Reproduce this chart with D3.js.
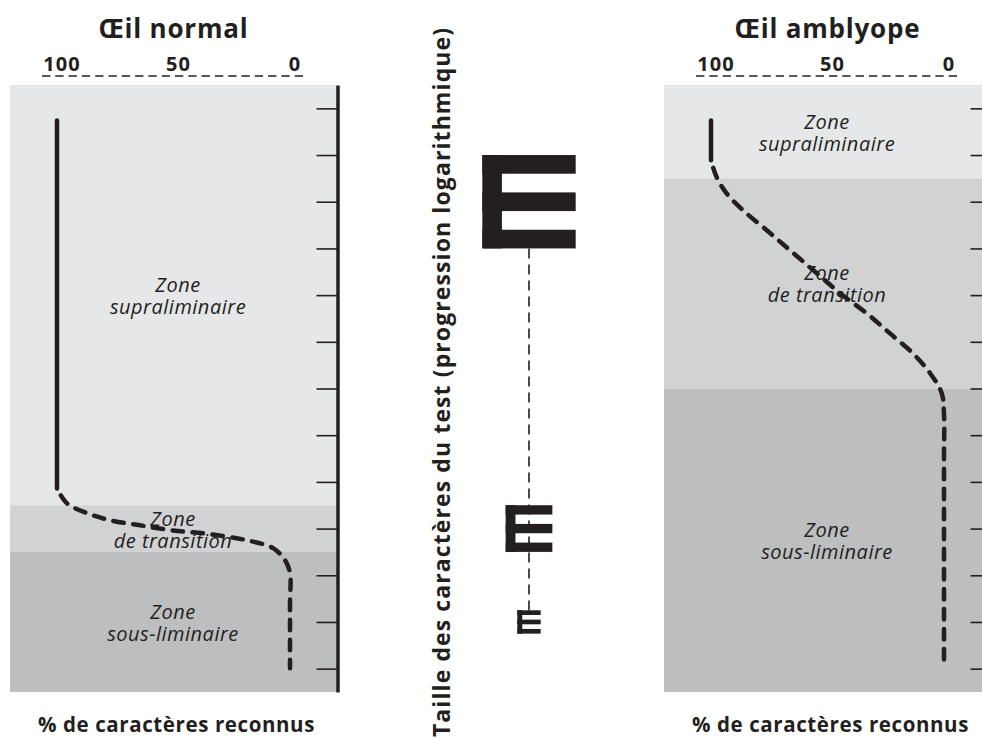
<!DOCTYPE html>
<html>
<head>
<meta charset="utf-8">
<script src="https://cdn.jsdelivr.net/npm/d3@7"></script>
<style>
  body { margin: 0; background: #fff; }
  svg { display: block; }
  text { font-family: "Open Sans", "Noto Sans", sans-serif; fill: #231f20; }
</style>
</head>
<body>
<svg id="chart" width="982" height="738"></svg>
<script>
// Character-size levels of the test (logarithmic progression), one tick per level
const sizeLevels = d3.range(0, 13);
// Top axis: % of characters recognised
const percentTicks = [100, 50, 0];

const panelTitles = ["Œil normal", "Œil amblyope"];
const zoneNames = [
  ["Zone", "supraliminaire"],
  ["Zone", "de transition"],
  ["Zone", "sous-liminaire"]
];
// Zone limits on the size axis (level units)
const normalZoneBounds = [-0.5, 8.5, 9.5, 12.5];
const amblyopeZoneBounds = [-0.5, 1.5, 6, 12.5];

// Recognition curves: [percent recognised, size level]
const normalSolid = [[100, 0.26], [100, 8.14]];
const normalDashed = [
  [100, 8.14], [95.7, 8.46], [87.1, 8.67], [77.3, 8.82], [64.4, 8.93],
  [50.2, 9.04], [34.3, 9.12], [18.5, 9.25], [7.3, 9.42], [2.1, 9.68],
  [0, 9.95], [0, 10.6], [0, 11.99]
];
const amblyopeSolid = [[100, 0.26], [100, 1.11]];
const amblyopeDashed = [
  [100, 1.11], [97.6, 1.47], [93.3, 1.82], [86.3, 2.18], [76.1, 2.61],
  [66.1, 3.04], [54.6, 3.53], [44.6, 3.96], [33.2, 4.39], [23.2, 4.82],
  [13.3, 5.25], [6.0, 5.67], [1.0, 6.10], [0, 6.55], [0, 7.5], [0, 11.88]
];

// Optotypes drawn along the size axis: centre level and size (in levels)
const optoLevels = [2, 9, 11];
const optoSizes = [2, 1, 0.5];

const axisTitle = "Taille des caractères du test (progression logarithmique)";
const xLabel = "% de caractères reconnus";

const ink = "#231f20";
const zoneColors = ["#e6e7e8", "#d1d2d4", "#bcbec0"];

const svg = d3.select("#chart");

const y = d3.scaleLinear().domain([-0.5, 12.5]).range([85, 692]);
const x = d3.scaleLinear().domain([100, 0]).range([57, 290]);

const line = d3.line()
  .x(d => x(d[0]))
  .y(d => y(d[1]))
  .curve(d3.curveCatmullRom.alpha(0.5));

function drawPanel(offsetX, title, bounds, solid, dashed, labelX) {
  const g = svg.append("g").attr("transform", `translate(${offsetX},0)`);

  // zone bands
  const bands = d3.range(3).map(i => ({ from: bounds[i], to: bounds[i + 1], i }));
  g.selectAll("rect.zone").data(bands).join("rect")
    .attr("class", "zone")
    .attr("x", 10).attr("width", 327)
    .attr("y", d => y(d.from))
    .attr("height", d => y(d.to) - y(d.from))
    .attr("fill", d => zoneColors[d.i]);

  // zone labels, two lines each
  bands.forEach(d => {
    const cy = (y(d.from) + y(d.to)) / 2;
    zoneNames[d.i].forEach((s, k) => {
      g.append("text")
        .attr("x", labelX[d.i]).attr("y", cy - 3 + k * 22)
        .attr("text-anchor", "middle")
        .attr("font-style", "italic")
        .attr("font-size", 20)
        .attr("letter-spacing", 0.5)
        .text(s);
    });
  });

  // size axis with inward ticks
  const axis = d3.axisLeft(y).tickValues(sizeLevels).tickSize(21).tickSizeOuter(0).tickFormat("");
  const ag = g.append("g").attr("transform", "translate(337.5,0)").call(axis);
  ag.select(".domain").attr("stroke", ink).attr("stroke-width", 3.5);
  ag.selectAll(".tick line").attr("stroke", ink).attr("stroke-width", 1.6);

  // top percent axis
  g.append("line")
    .attr("x1", x(100) - 15).attr("x2", x(0) + 15)
    .attr("y1", 76).attr("y2", 76)
    .attr("stroke", ink).attr("stroke-width", 1.6)
    .attr("stroke-dasharray", "8.3,5");
  g.selectAll("text.pct").data(percentTicks).join("text")
    .attr("class", "pct")
    .attr("x", d => x(d) + 5).attr("y", 71)
    .attr("text-anchor", "middle")
    .attr("font-weight", 700).attr("font-size", 20)
    .attr("letter-spacing", 1)
    .text(d => d);

  // title
  g.append("text")
    .attr("x", x(50)).attr("y", 38)
    .attr("text-anchor", "middle")
    .attr("font-weight", 700).attr("font-size", 26)
    .attr("letter-spacing", 0.8)
    .text(title);

  // bottom label
  g.append("text")
    .attr("x", x(50) + 3).attr("y", 732)
    .attr("text-anchor", "middle")
    .attr("font-weight", 700).attr("font-size", 20.5)
    .attr("letter-spacing", 0.6)
    .text(xLabel);

  // recognition curve
  g.append("path").datum(solid)
    .attr("d", line)
    .attr("fill", "none").attr("stroke", ink)
    .attr("stroke-width", 4.5).attr("stroke-linecap", "round");
  g.append("path").datum(dashed)
    .attr("d", line)
    .attr("fill", "none").attr("stroke", ink)
    .attr("stroke-width", 4.5).attr("stroke-linecap", "round")
    .attr("stroke-dasharray", "10.5,9.5")
    .attr("stroke-dashoffset", -8);
}

drawPanel(0, panelTitles[0], normalZoneBounds, normalSolid, normalDashed, [178, 173, 173]);
drawPanel(654, panelTitles[1], amblyopeZoneBounds, amblyopeSolid, amblyopeDashed, [173, 173, 173]);

// central size axis with optotypes
const cx = 529;
svg.append("line")
  .attr("x1", cx).attr("x2", cx)
  .attr("y1", y(optoLevels[0] + optoSizes[0] / 2))
  .attr("y2", y(optoLevels[2] - optoSizes[2] / 2))
  .attr("stroke", ink).attr("stroke-width", 1.6)
  .attr("stroke-dasharray", "10,6");

optoLevels.forEach((lv, i) => {
  const s = y(lv + optoSizes[i] / 2) - y(lv - optoSizes[i] / 2);
  const u = s / 5;
  const x0 = cx - s / 2;
  const y0 = y(lv - optoSizes[i] / 2);
  const eg = svg.append("g").attr("fill", ink);
  eg.append("rect").attr("x", x0).attr("y", y0).attr("width", u * 1.05).attr("height", s);
  [0, 2, 4].forEach(k => {
    eg.append("rect").attr("x", x0).attr("y", y0 + k * u).attr("width", s).attr("height", u);
  });
});

svg.append("text")
  .attr("transform", "translate(450,382) rotate(-90)")
  .attr("text-anchor", "middle")
  .attr("font-weight", 700).attr("font-size", 23)
  .attr("letter-spacing", 1.1)
  .text(axisTitle);
</script>
</body>
</html>
